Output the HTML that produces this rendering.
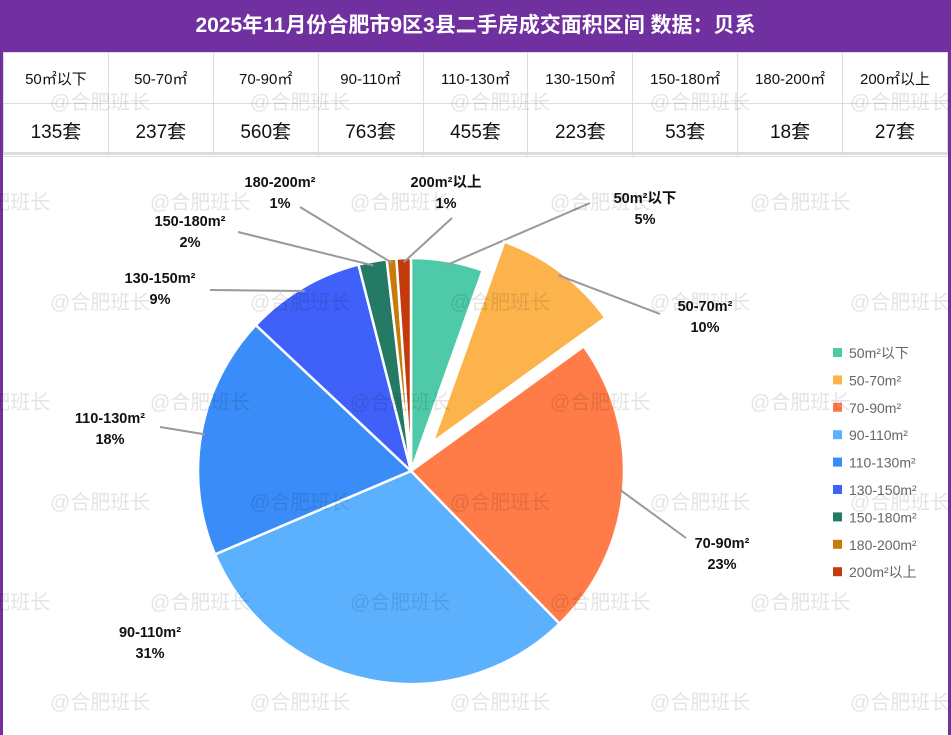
<!DOCTYPE html>
<html><head><meta charset="utf-8"><style>
body{margin:0;width:951px;height:735px;overflow:hidden;background:#fff;font-family:"Liberation Sans","Noto Sans CJK SC",sans-serif;}
#frame{position:absolute;left:0;top:0;width:951px;height:735px;box-sizing:border-box;border:3px solid #7030a0;border-top:none;border-bottom:none;}
#title{position:absolute;left:0;top:0;width:951px;height:52px;background:#7030a0;color:#fff;font-size:21px;font-weight:bold;text-align:center;line-height:52px;}
table{position:absolute;left:3px;top:52px;width:945px;border-collapse:collapse;table-layout:fixed;}
td{border:1px solid #ddd;text-align:center;color:#111;}
tr.h td{height:48px;font-size:15px;}
tr.v td{height:50px;font-size:19px;}
#sep{position:absolute;left:3px;top:152px;width:945px;height:3px;background:#ddd;}
#wms{position:absolute;left:0;top:0;width:951px;height:735px;z-index:2;pointer-events:none;}
.wm{position:absolute;font-size:20px;color:rgba(0,0,0,0.11);white-space:nowrap;}
svg{position:absolute;left:0;top:0;z-index:1;}
.lbl{font-size:14.5px;font-weight:bold;fill:#111;paint-order:stroke;stroke:#fff;stroke-width:3px;}
.leg{font-size:14px;fill:#666;}
</style></head><body>
<div id="frame"></div>
<div id="title">2025年11月份合肥市9区3县二手房成交面积区间 数据：贝系</div>
<table>
<tr class="h" id="hrow"></tr>
<tr class="v" id="vrow"></tr>
</table>
<div id="sep"></div>
<svg id="chart" width="951" height="735"></svg>
<div id="wms"></div>
<script>
const categories=["50m²以下","50-70m²","70-90m²","90-110m²","110-130m²","130-150m²","150-180m²","180-200m²","200m²以上"];
const legendLabels=["50m²以下","50-70m²","70-90m²","90-110m²","110-130m²","130-150m²","150-180m²","180-200m²","200m²以上"];
const values=[135,237,560,763,455,223,53,18,27];
const percentLabels=["5%","10%","23%","31%","18%","9%","2%","1%","1%"];
const colors=["#4ecaa9","#fdb34c","#ff7b47","#5cb1ff","#3a8cf8","#4060fa","#257a66","#c87b0a","#c33a0c"];
const explodeIndex=1;
// label anchor layout (positions, not data)
const labelPos=[[645,198],[705,306],[722,543],[150,632],[110,418],[160,278],[190,221],[280,182],[446,182]];
const lineEnd=[[590,203],[660,314],[686,538],[188,630],[160,427],[210,290],[238,232],[300,207],[452,218]];
const lineVisible=[true,true,true,false,true,true,true,true,true];

const hrow=document.getElementById('hrow'),vrow=document.getElementById('vrow');
categories.forEach((c,i)=>{
 const a=document.createElement('td');a.textContent=c.replace('m²','㎡');
 
 
 hrow.appendChild(a);
 const b=document.createElement('td');b.textContent=values[i]+'套';
 
 
 vrow.appendChild(b);
});
const wms=document.getElementById('wms');
for(let r=0;r<7;r++){for(let k=-1;k<6;k++){
 const d=document.createElement('div');d.className='wm';
 
 
 d.textContent='@合肥班长';
 d.style.left=(50+k*200+(r%2?-100:0))+'px';d.style.top=(86+r*100)+'px';wms.appendChild(d);}}

const NS='http://www.w3.org/2000/svg';const svg=document.getElementById('chart');
const cx=411,cy=471,R=213,EX=36;
const total=values.reduce((a,b)=>a+b,0);
function pt(a,r,ox,oy){return [ox+r*Math.sin(a),oy-r*Math.cos(a)];}
let acc=0;
values.forEach((v,i)=>{
 const a0=acc/total*2*Math.PI;acc+=v;const a1=acc/total*2*Math.PI;const am=(a0+a1)/2;
 let ox=cx,oy=cy;if(i===explodeIndex){ox+=EX*Math.sin(am);oy-=EX*Math.cos(am);}
 const p0=pt(a0,R,ox,oy),p1=pt(a1,R,ox,oy);
 const p=document.createElementNS(NS,'path');
 p.setAttribute('d',`M${ox},${oy}L${p0[0]},${p0[1]}A${R},${R} 0 ${a1-a0>Math.PI?1:0} 1 ${p1[0]},${p1[1]}Z`);
 p.setAttribute('fill',colors[i]);p.setAttribute('stroke','#fff');p.setAttribute('stroke-width','2.5');
 
 
 svg.appendChild(p);
 if(lineVisible[i]){
 const e=pt(am,R-4,ox,oy);
 const l=document.createElementNS(NS,'polyline');
 l.setAttribute('points',`${e[0]},${e[1]} ${lineEnd[i][0]},${lineEnd[i][1]}`);
 l.setAttribute('stroke','#999');l.setAttribute('stroke-width','2');l.setAttribute('fill','none');
 
 
 svg.appendChild(l);}
 const t=document.createElementNS(NS,'text');t.setAttribute('class','lbl');t.setAttribute('text-anchor','middle');
 t.setAttribute('x',labelPos[i][0]);t.setAttribute('y',labelPos[i][1]+5);
 
 
 const s1=document.createElementNS(NS,'tspan');s1.textContent=categories[i];
 const s2=document.createElementNS(NS,'tspan');s2.textContent=percentLabels[i];s2.setAttribute('x',labelPos[i][0]);s2.setAttribute('dy','21');
 t.appendChild(s1);t.appendChild(s2);svg.appendChild(t);
});
legendLabels.forEach((c,i)=>{
 const y=353+i*27.4;
 const g=document.createElementNS(NS,'g');
 
 
 const r=document.createElementNS(NS,'rect');r.setAttribute('x',833);r.setAttribute('y',y-5);r.setAttribute('width',9);r.setAttribute('height',9);r.setAttribute('fill',colors[i]);
 const t=document.createElementNS(NS,'text');t.setAttribute('class','leg');t.setAttribute('x',849);t.setAttribute('y',y+5);t.textContent=c;
 g.appendChild(r);g.appendChild(t);svg.appendChild(g);
});
</script>
</body></html>
